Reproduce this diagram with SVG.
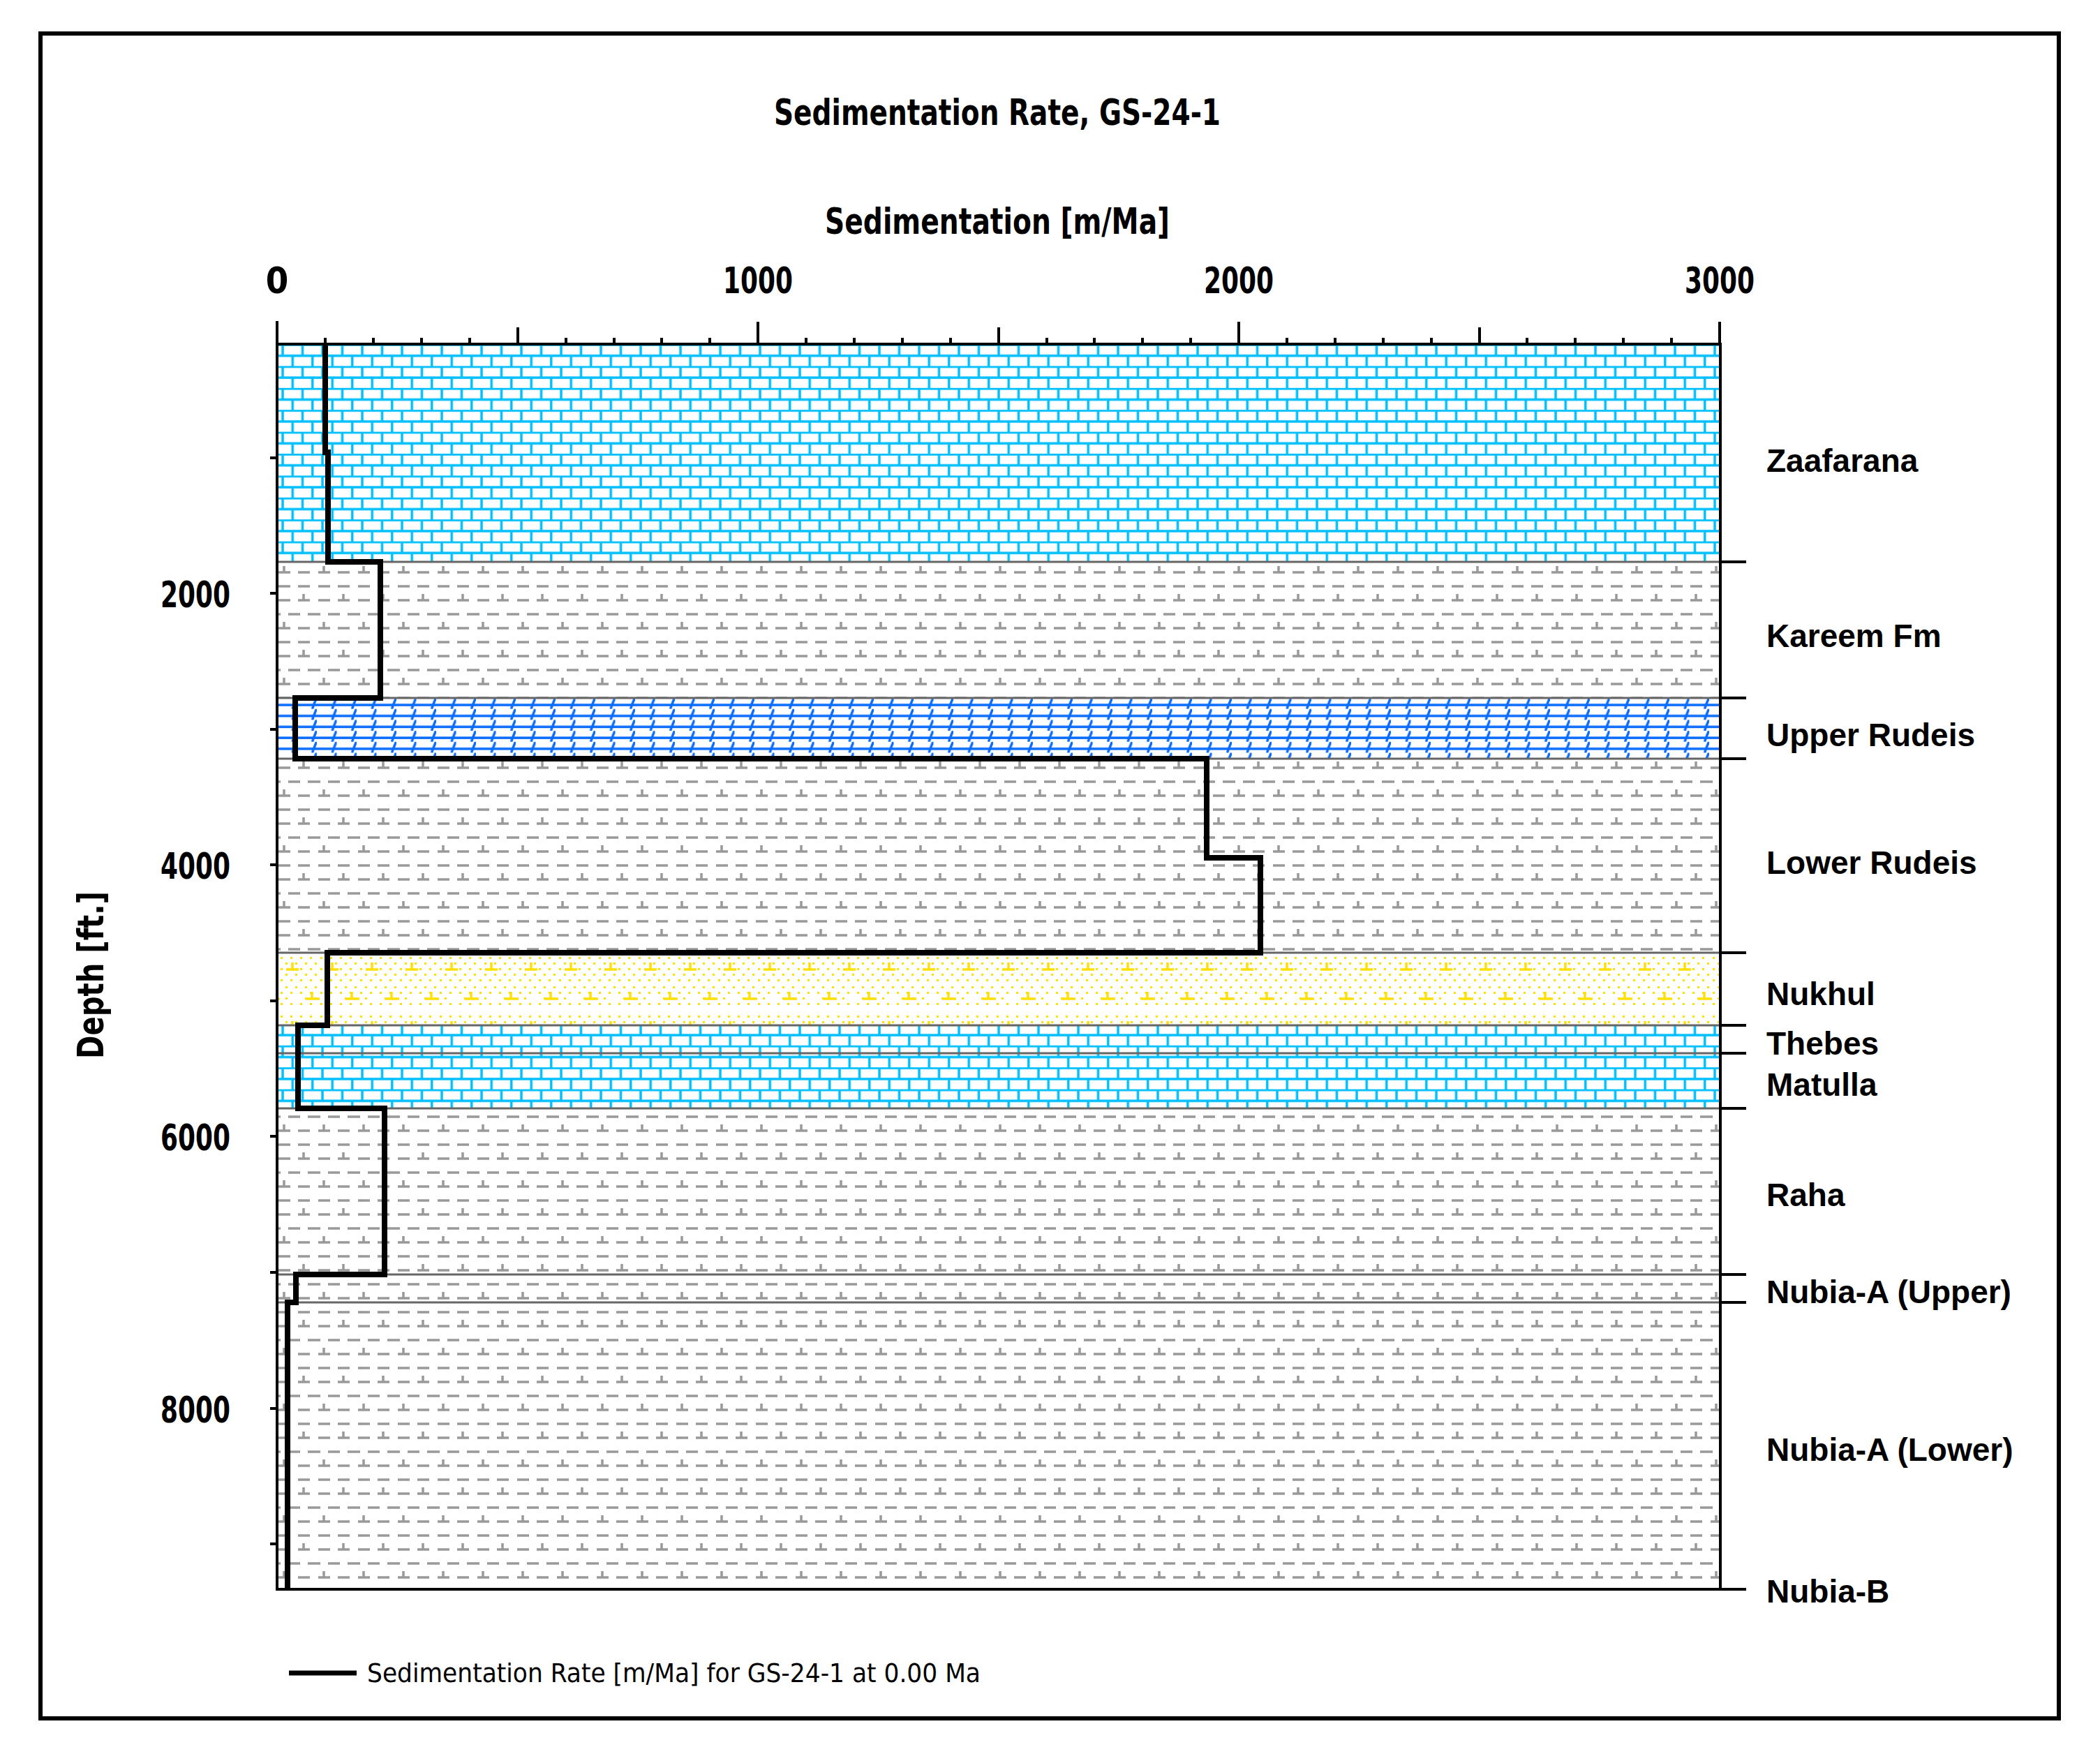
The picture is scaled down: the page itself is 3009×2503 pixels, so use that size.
<svg xmlns="http://www.w3.org/2000/svg" width="3009" height="2503" viewBox="0 0 3009 2503">
<style>
.t{font-family:"Liberation Sans Narrow","DejaVu Sans Condensed","Liberation Sans",sans-serif;font-weight:bold;fill:#000}
.lab{font-family:"Liberation Sans",sans-serif;font-weight:bold;font-size:46px;fill:#000}
.bd{stroke:#666;stroke-width:3}
.tk{stroke:#000;stroke-width:4}
</style>
<defs>
<pattern id="lime" width="28.5" height="31.4" patternUnits="userSpaceOnUse" x="397" y="493">
<rect width="28.5" height="31.4" fill="#fff"/>
<g stroke="#00BFFF" stroke-width="3.5">
<line x1="0" y1="1" x2="28.5" y2="1"/><line x1="0" y1="16.7" x2="28.5" y2="16.7"/>
<line x1="8" y1="1" x2="8" y2="16.7"/><line x1="22.25" y1="16.7" x2="22.25" y2="31.4"/>
</g></pattern>
<pattern id="marl" width="28.5" height="15.7" patternUnits="userSpaceOnUse" x="397" y="1000">
<rect width="28.5" height="15.7" fill="#fff"/>
<g stroke="#0A6CFF" stroke-width="3.5">
<line x1="0" y1="10" x2="28.5" y2="10"/><line x1="24" y1="10" x2="28" y2="0"/><line x1="22" y1="15.7" x2="24" y2="10"/>
</g></pattern>
<pattern id="shale" width="57" height="80" patternUnits="userSpaceOnUse" x="397" y="805">
<rect width="57" height="80" fill="#fff"/>
<g stroke="#999" stroke-width="3.5" fill="none">
<path d="M2 15h17M10 15v-9M30 15h17"/>
<path d="M2 35h17M30 35h17"/>
<path d="M30 55h17M38 55v-9M2 55h17"/>
<path d="M16 75h17M44 75h13M0 75h5"/>
</g></pattern>
<pattern id="sand" width="57" height="84" patternUnits="userSpaceOnUse" x="397" y="1365">
<rect width="57" height="84" fill="#fff"/>
<g fill="#FFE000">
<rect x="5" y="6" width="3" height="3"/><rect x="19" y="6" width="3" height="3"/><rect x="33" y="6" width="3" height="3"/><rect x="47" y="6" width="3" height="3"/>
<rect x="12" y="14" width="3" height="3"/><rect x="26" y="14" width="3" height="3"/><rect x="40" y="14" width="3" height="3"/><rect x="54" y="14" width="3" height="3"/>
<rect x="5" y="22" width="3" height="3"/><rect x="33" y="22" width="3" height="3"/><rect x="47" y="22" width="3" height="3"/>
<rect x="12" y="30" width="3" height="3"/><rect x="26" y="30" width="3" height="3"/><rect x="40" y="30" width="3" height="3"/><rect x="54" y="30" width="3" height="3"/>
<rect x="5" y="38" width="3" height="3"/><rect x="19" y="38" width="3" height="3"/><rect x="33" y="38" width="3" height="3"/><rect x="47" y="38" width="3" height="3"/>
<rect x="12" y="48" width="3" height="3"/><rect x="26" y="48" width="3" height="3"/><rect x="40" y="48" width="3" height="3"/><rect x="54" y="48" width="3" height="3"/>
<rect x="5" y="56" width="3" height="3"/><rect x="19" y="56" width="3" height="3"/><rect x="33" y="56" width="3" height="3"/><rect x="47" y="56" width="3" height="3"/>
<rect x="12" y="64" width="3" height="3"/><rect x="40" y="64" width="3" height="3"/><rect x="54" y="64" width="3" height="3"/>
<rect x="5" y="72" width="3" height="3"/><rect x="19" y="72" width="3" height="3"/><rect x="33" y="72" width="3" height="3"/><rect x="47" y="72" width="3" height="3"/>
</g>
<g stroke="#FFE000" stroke-width="3.5"><path d="M13 24h18M22 24v-10M41 66h16M0 66h4M50 66v-10"/></g>
</pattern>
</defs>
<rect x="58" y="48" width="2892" height="2414" fill="#fff" stroke="#000" stroke-width="6"/>
<text class="t" x="1429" y="179" font-size="52" text-anchor="middle" textLength="640" lengthAdjust="spacingAndGlyphs">Sedimentation Rate, GS-24-1</text>
<text class="t" x="1429" y="335" font-size="52" text-anchor="middle" textLength="494" lengthAdjust="spacingAndGlyphs">Sedimentation [m/Ma]</text>
<g class="t" font-size="52" text-anchor="middle">
<text x="397" y="420">0</text><text x="1086" y="420" textLength="100" lengthAdjust="spacingAndGlyphs">1000</text><text x="1775" y="420" textLength="100" lengthAdjust="spacingAndGlyphs">2000</text><text x="2464" y="420" textLength="100" lengthAdjust="spacingAndGlyphs">3000</text>
</g>
<text class="t" font-size="52" text-anchor="middle" transform="translate(148 1397) rotate(-90)" textLength="240" lengthAdjust="spacingAndGlyphs">Depth [ft.]</text>
<g class="t" font-size="52" text-anchor="end">
<text x="330" y="870" textLength="100" lengthAdjust="spacingAndGlyphs">2000</text><text x="330" y="1259" textLength="100" lengthAdjust="spacingAndGlyphs">4000</text><text x="330" y="1648" textLength="100" lengthAdjust="spacingAndGlyphs">6000</text><text x="330" y="2038" textLength="100" lengthAdjust="spacingAndGlyphs">8000</text>
</g>
<g id="layers">
<rect id="zaafarana" x="397" y="493" width="2068" height="312" fill="url(#lime)"/>
<rect id="kareem" x="397" y="805" width="2068" height="195" fill="url(#shale)"/>
<rect id="upper-rudeis" x="397" y="1000" width="2068" height="87" fill="url(#marl)"/>
<rect id="lower-rudeis" x="397" y="1087" width="2068" height="278" fill="url(#shale)"/>
<rect id="nukhul" x="397" y="1365" width="2068" height="104" fill="url(#sand)"/>
<rect id="thebes" x="397" y="1469" width="2068" height="40" fill="url(#lime)"/>
<rect id="matulla" x="397" y="1509" width="2068" height="79" fill="url(#lime)"/>
<rect id="raha" x="397" y="1588" width="2068" height="238" fill="url(#shale)"/>
<rect id="nubia-a-upper" x="397" y="1826" width="2068" height="40" fill="url(#shale)"/>
<rect id="nubia-a-lower" x="397" y="1866" width="2068" height="411" fill="url(#shale)"/>
</g>
<g id="boundaries">
<g class="bd"><line x1="397" y1="805" x2="2465" y2="805"/><line x1="397" y1="1000" x2="2465" y2="1000"/><line x1="397" y1="1087" x2="2465" y2="1087"/><line x1="397" y1="1365" x2="2465" y2="1365"/><line x1="397" y1="1469" x2="2465" y2="1469"/><line x1="397" y1="1509" x2="2465" y2="1509"/><line x1="397" y1="1588" x2="2465" y2="1588"/><line x1="397" y1="1826" x2="2465" y2="1826"/><line x1="397" y1="1866" x2="2465" y2="1866"/></g>
<g class="tk"><line x1="2465" y1="805" x2="2502" y2="805"/><line x1="2465" y1="1000" x2="2502" y2="1000"/><line x1="2465" y1="1087" x2="2502" y2="1087"/><line x1="2465" y1="1365" x2="2502" y2="1365"/><line x1="2465" y1="1469" x2="2502" y2="1469"/><line x1="2465" y1="1509" x2="2502" y2="1509"/><line x1="2465" y1="1588" x2="2502" y2="1588"/><line x1="2465" y1="1826" x2="2502" y2="1826"/><line x1="2465" y1="1866" x2="2502" y2="1866"/><line x1="2465" y1="2277" x2="2502" y2="2277"/></g>
</g>
<g id="axes" stroke="#000" stroke-width="4" fill="none">
<path d="M397 460V2277H2465V493H397"/>
<path d="M466 493v-9M535 493v-9M604 493v-9M673 493v-9M742 493v-24M811 493v-9M880 493v-9M948 493v-9M1017 493v-9M1086 493v-32M1155 493v-9M1224 493v-9M1293 493v-9M1362 493v-9M1431 493v-24M1500 493v-9M1568 493v-9M1637 493v-9M1706 493v-9M1775 493v-32M1844 493v-9M1913 493v-9M1982 493v-9M2051 493v-9M2120 493v-24M2188 493v-9M2257 493v-9M2326 493v-9M2395 493v-9M2464 493v-32"/>
<path d="M397 656h-10M397 850h-10M397 1045h-10M397 1239h-10M397 1434h-10M397 1628h-10M397 1823h-10M397 2018h-10M397 2212h-10"/>
</g>
<g class="lab">
<text x="2531" y="676">Zaafarana</text>
<text x="2531" y="927">Kareem Fm</text>
<text x="2531" y="1069">Upper Rudeis</text>
<text x="2531" y="1252">Lower Rudeis</text>
<text x="2531" y="1440">Nukhul</text>
<text x="2531" y="1511">Thebes</text>
<text x="2531" y="1570">Matulla</text>
<text x="2531" y="1728">Raha</text>
<text x="2531" y="1867">Nubia-A (Upper)</text>
<text x="2531" y="2093">Nubia-A (Lower)</text>
<text x="2531" y="2296">Nubia-B</text>
</g>
<g id="connectors">
<path d="M466 493V648H470V805H545V1000H423V1087H1729V1229H1806V1365H469V1469H427V1588H551V1826H424V1866H412V2277" fill="none" stroke="#000" stroke-width="8"/>
</g>
<g id="legend">
<line x1="414" y1="2397" x2="511" y2="2397" stroke="#000" stroke-width="7"/>
<text x="526" y="2410" font-family="Liberation Sans Narrow,DejaVu Sans Condensed,sans-serif" font-size="38" textLength="879" lengthAdjust="spacingAndGlyphs">Sedimentation Rate [m/Ma] for GS-24-1 at 0.00 Ma</text>
</g>
</svg>
